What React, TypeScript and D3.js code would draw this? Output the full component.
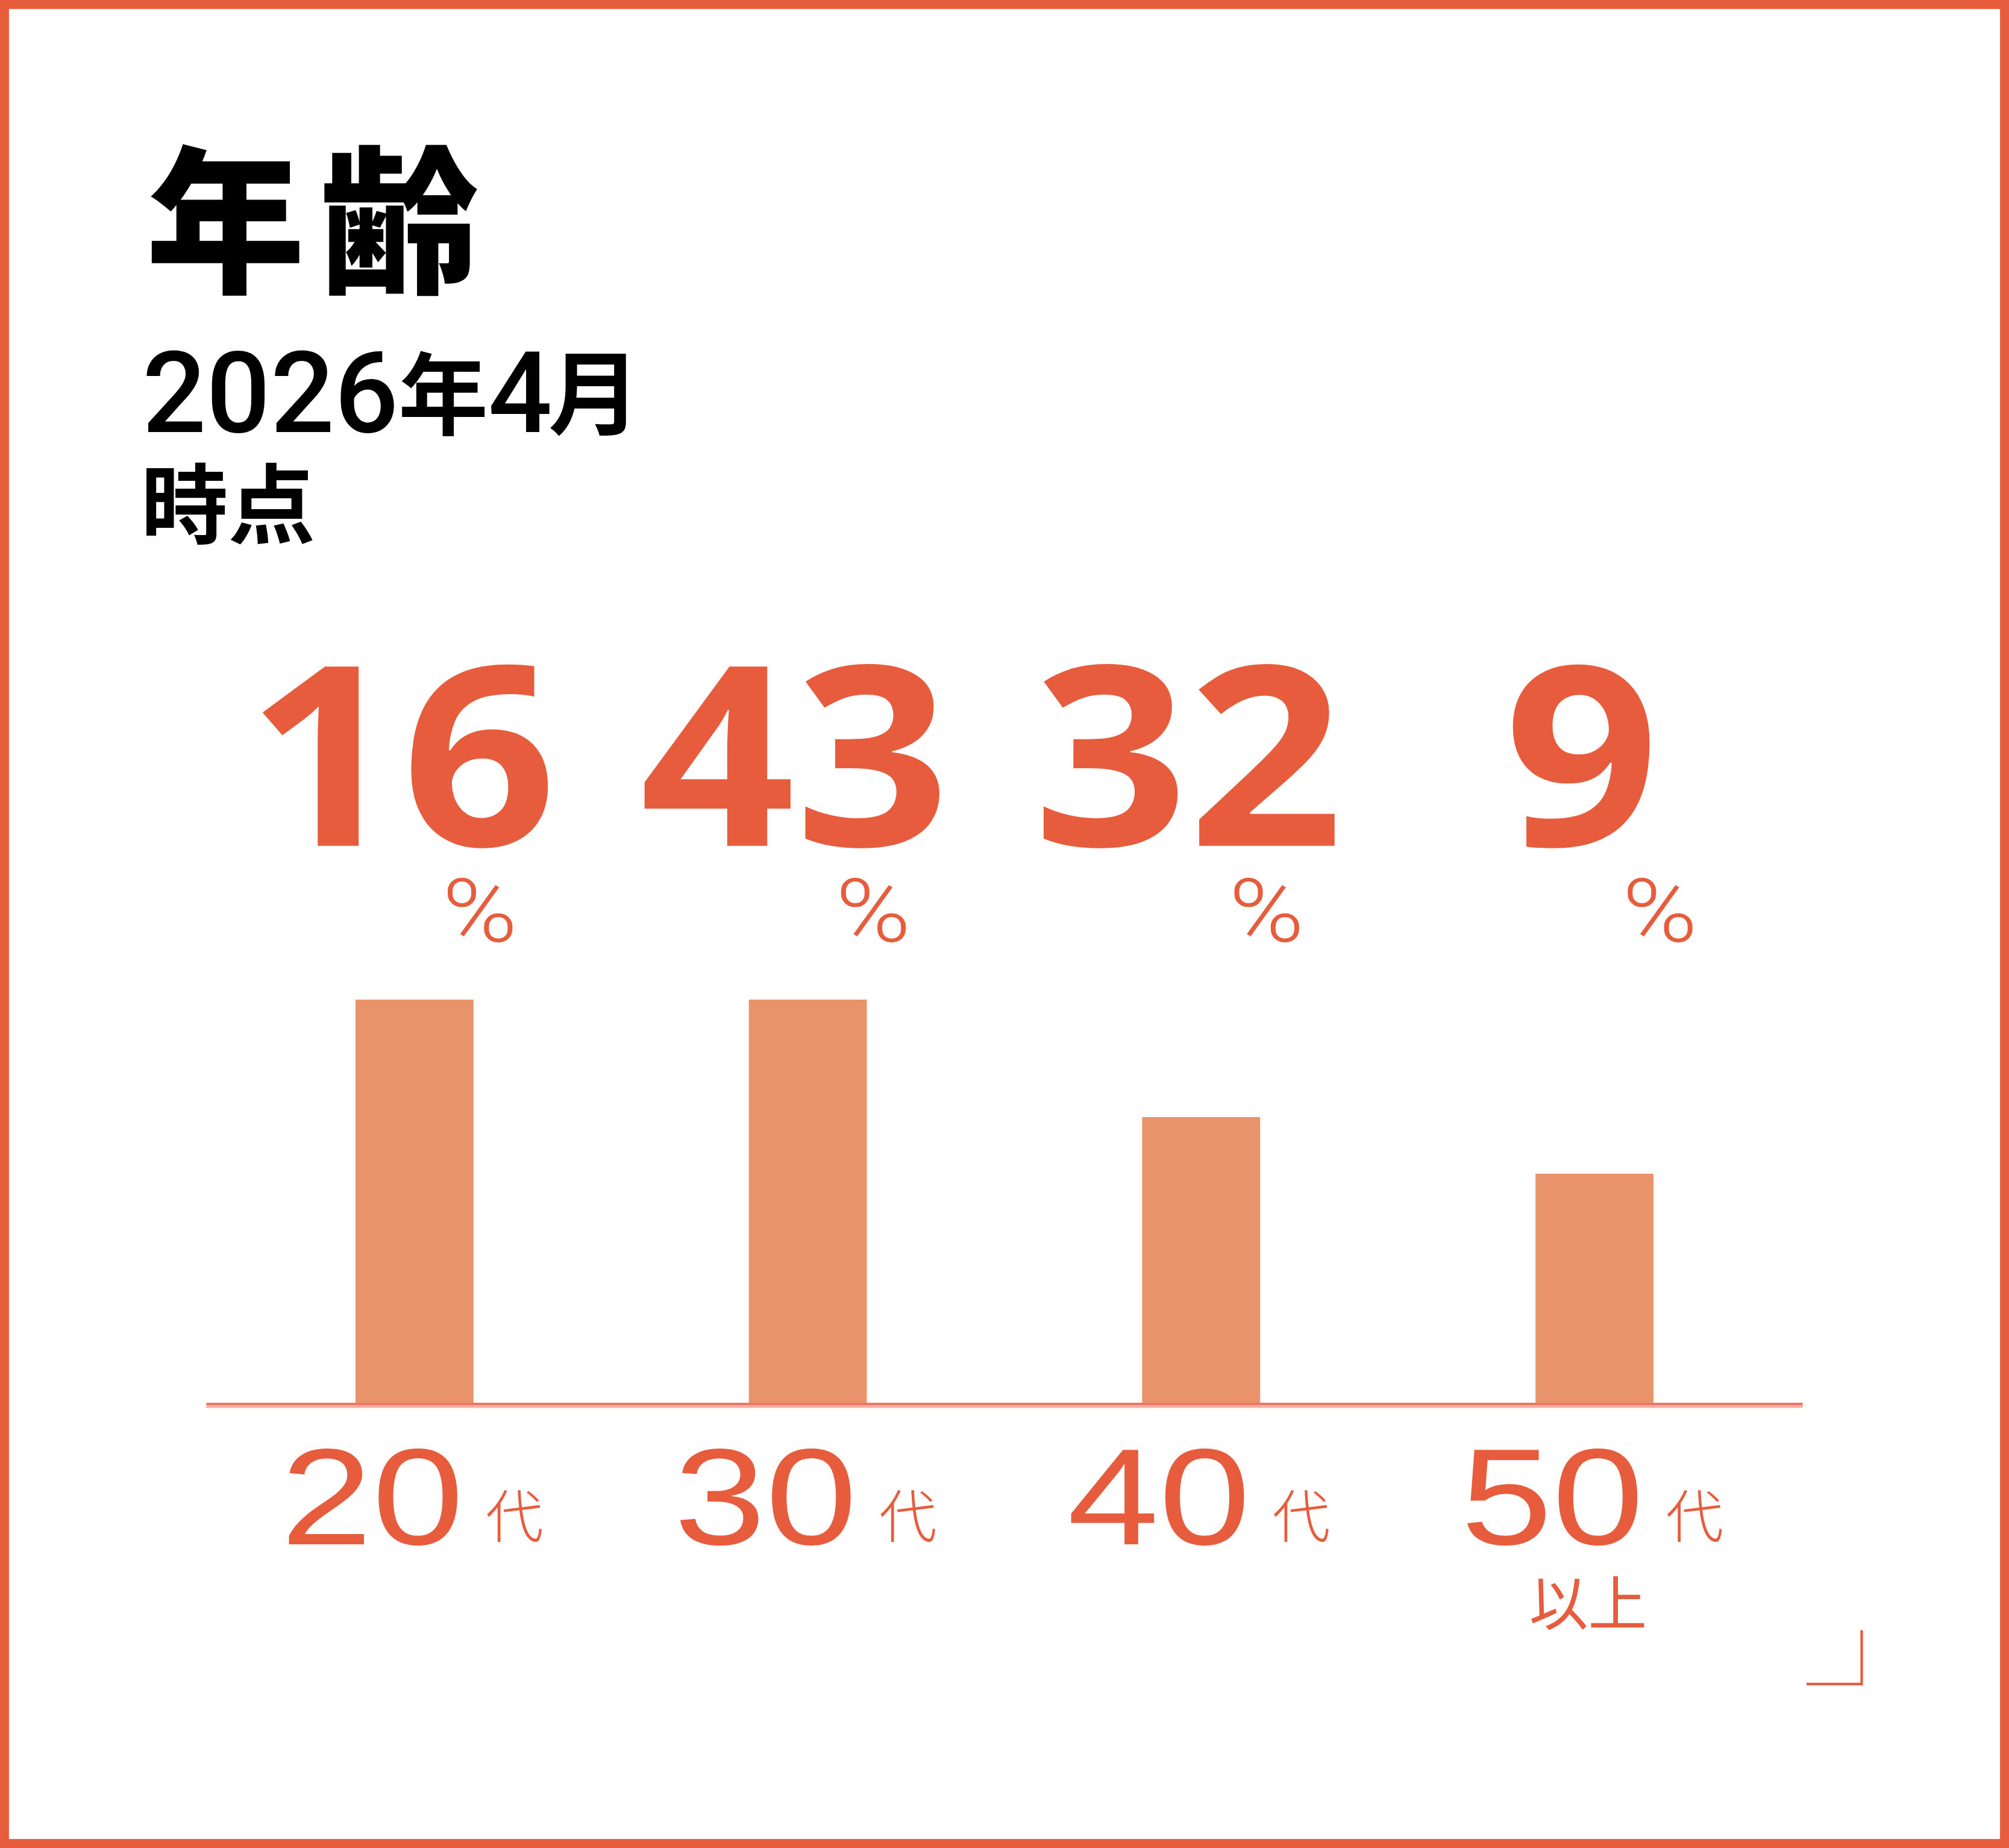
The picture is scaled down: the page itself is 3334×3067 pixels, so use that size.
import React from 'react';
import * as d3 from 'd3';

// data
const ageGroups = ['20', '30', '40', '50'];
const ageSuffix = '代';
const ageNote = ['', '', '', '以上'];
const sharePercent = [16, 43, 32, 9];
// bar heights as drawn (relative, tallest = 100); they are not proportional to the shares
const barLevel = [100, 100, 71, 57];

const title = '年齢';
const asOfYear = '2026';
const asOfMonth = '4';
const asOfTail = '時点';

const W = 1568;
const H = 1442;
const accent = '#E65C3C';
const barColor = '#E8936A';
const jp = '"Noto Sans CJK JP", "Noto Sans CJK SC", sans-serif';
const roboto = 'Roboto, "Liberation Sans", Arial, sans-serif';
const helv = '"Liberation Sans", Arial, sans-serif';
const bold = '"Open Sans", "Noto Sans", sans-serif';

const App: React.FC = () => {
  const baseY = 1096;
  const x = d3.scaleBand<string>()
    .domain(ageGroups)
    .range([170, 1398])
    .paddingInner(0.7)
    .paddingOuter(0.35);
  const y = d3.scaleLinear().domain([0, 100]).range([baseY, 780]);
  const cx = (c: string) => (x(c) || 0) + x.bandwidth() / 2;

  return (
    <svg
      width={3334}
      height={3067}
      viewBox={`0 0 ${W} ${H}`}
      preserveAspectRatio="none"
      style={{ position: 'absolute', left: 0, top: 0, background: '#fff' }}
    >
      <rect x={0} y={0} width={W} height={H} fill="#fff" />
      {/* frame */}
      <rect x={3.5} y={3.5} width={W - 7} height={H - 7} fill="none" stroke={accent} strokeWidth={7} />

      {/* heading */}
      <text x={114} y={219} fontFamily={jp} fontWeight={900} fontSize={124} letterSpacing={12} fill="#000">
        {title}
      </text>
      <text x={111} y={337} fontFamily={roboto} fontWeight={500} fontSize={88} fill="#000">
        {asOfYear}
      </text>
      <text x={311} y={334} fontFamily={jp} fontWeight={700} fontSize={70} fill="#000">年</text>
      <text x={381} y={337} fontFamily={roboto} fontWeight={500} fontSize={88} fill="#000">
        {asOfMonth}
      </text>
      <text x={428} y={334} fontFamily={jp} fontWeight={700} fontSize={72} fill="#000">月</text>
      <text x={110} y={419} fontFamily={jp} fontWeight={700} fontSize={68} fill="#000">
        {asOfTail}
      </text>

      {/* big share numbers */}
      {ageGroups.map((c, i) => (
        <g key={`v${c}`}>
          <text
            transform={`translate(${cx(c) - 10},660) scale(1.08,1)`}
            textAnchor="middle"
            fontFamily={bold}
            fontWeight={700}
            fontSize={196}
            fill={accent}
          >
            {sharePercent[i]}
          </text>
          <text
            transform={`translate(${cx(c) + 51},735) scale(1.15,1)`}
            textAnchor="middle"
            fontFamily={roboto}
            fontWeight={300}
            fontSize={69}
            fill={accent}
          >
            %
          </text>
        </g>
      ))}

      {/* bars */}
      {ageGroups.map((c, i) => (
        <rect
          key={`b${c}`}
          x={x(c)}
          y={y(barLevel[i])}
          width={x.bandwidth()}
          height={baseY - y(barLevel[i])}
          fill={barColor}
        />
      ))}
      <line x1={161} x2={1407} y1={baseY - 0.5} y2={baseY - 0.5} stroke="#EC7762" strokeWidth={2} />
      <line x1={161} x2={1407} y1={baseY + 1.5} y2={baseY + 1.5} stroke="#F4ACA0" strokeWidth={2} />

      {/* category labels */}
      {ageGroups.map((c, i) => (
        <g key={`l${c}`}>
          <text
            transform={`translate(${cx(c) - 33},1205) scale(1.2,1)`}
            textAnchor="middle"
            fontFamily={helv}
            fontWeight={400}
            fontSize={107}
            fill={accent}
          >
            {c}
          </text>
          <text x={cx(c) + 78} y={1200} textAnchor="middle" fontFamily={jp} fontWeight={300} fontSize={45} fill={accent}>
            {ageSuffix}
          </text>
          {ageNote[i] && (
            <text x={cx(c) - 5} y={1268} textAnchor="middle" fontFamily={jp} fontWeight={400} fontSize={46} fill={accent}>
              {ageNote[i]}
            </text>
          )}
        </g>
      ))}

      {/* corner mark */}
      <path d="M1410,1314 H1453 V1272" fill="none" stroke={accent} strokeWidth={2} />
    </svg>
  );
};

export default App;
